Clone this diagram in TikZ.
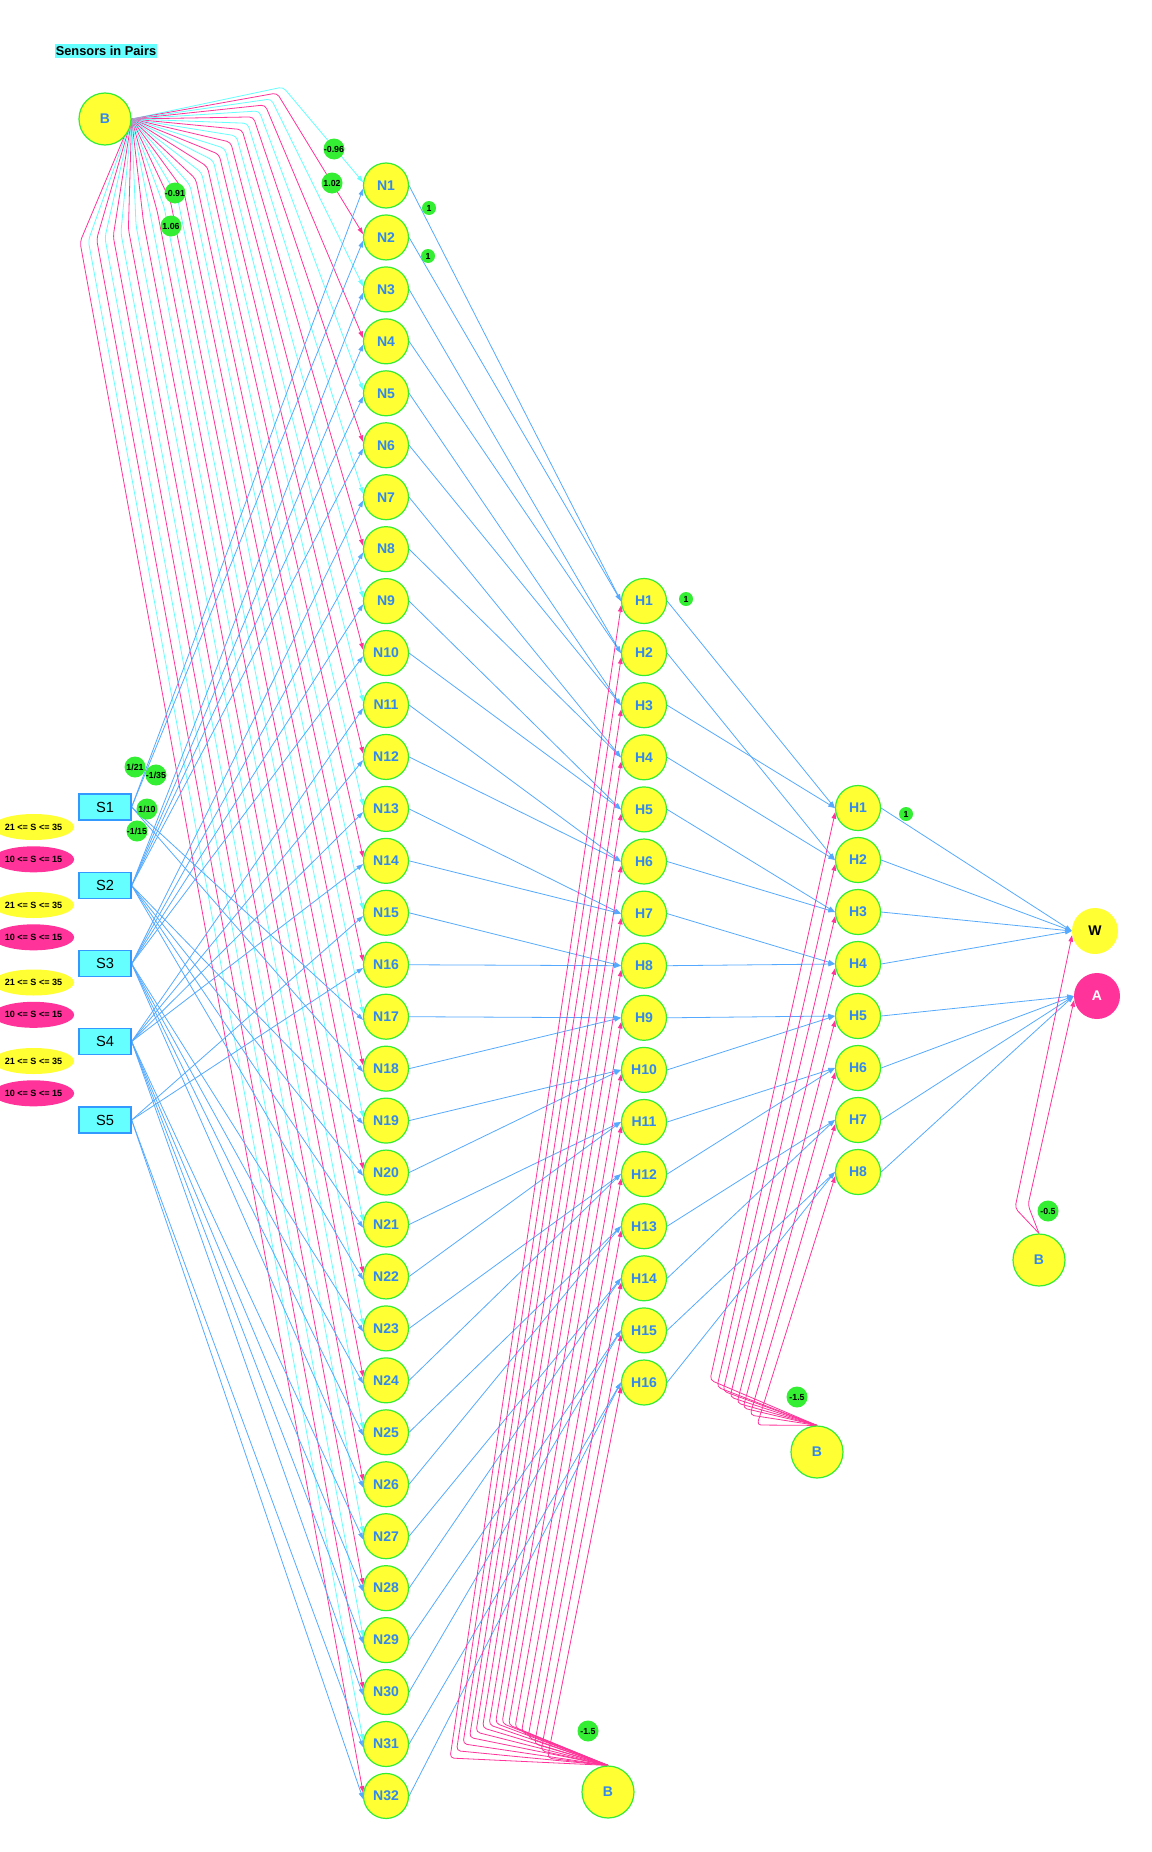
\documentclass[tikz,border=0pt]{standalone}
\usepackage{fontspec}
\setmainfont{Liberation Sans}
\usetikzlibrary{arrows.meta,shapes.geometric}
\pgfdeclarelayer{bg}
\pgfsetlayers{bg,main}
\definecolor{nyellow}{HTML}{FFFF33}
\definecolor{ngreen}{HTML}{33EE33}
\definecolor{lgreen}{HTML}{33EE33}
\definecolor{tblue}{HTML}{3388EE}
\definecolor{eblue}{HTML}{55AAFF}
\definecolor{ecyan}{HTML}{66FFFF}
\definecolor{epink}{HTML}{FF3399}
\definecolor{scyan}{HTML}{66FFFF}
\definecolor{sblue}{HTML}{3399FF}
\begin{document}
\begin{tikzpicture}[x=0.75pt,y=-0.75pt,
 neuron/.style={circle,draw=ngreen,line width=0.9pt,fill=nyellow,minimum size=33.75pt,inner sep=0pt,font=\fontsize{10.5}{12}\selectfont\bfseries,text=tblue},
 biasn/.style={neuron,minimum size=39pt},
 outn/.style={circle,minimum size=34.5pt,inner sep=0pt,font=\fontsize{10.5}{12}\selectfont\bfseries},
 sensor/.style={rectangle,draw=sblue,line width=1pt,fill=scyan,minimum width=39pt,minimum height=19.5pt,inner sep=0pt,font=\fontsize{11}{12}\selectfont},
 wlab/.style={circle,fill=lgreen,minimum size=15.75pt,inner sep=0pt,font=\fontsize{6.6}{7}\selectfont\bfseries},
 wone/.style={wlab,minimum size=10.5pt},
 rangey/.style={ellipse,fill=nyellow,minimum width=48.75pt,minimum height=19.5pt,inner sep=0pt,font=\fontsize{6.8}{7}\selectfont\bfseries},
 rangep/.style={rangey,fill=epink},
 titlebox/.style={fill=scyan,inner xsep=1pt,inner ysep=2pt,font=\fontsize{9.6}{11}\selectfont\bfseries},
 eb/.style={draw=eblue,line width=0.6pt,-{Triangle[length=5pt,width=3.4pt]}},
 ec/.style={eb,draw=ecyan,rounded corners=3pt},
 ep/.style={eb,draw=epink,rounded corners=3pt},
]
\useasboundingbox (0,0) rectangle (1152,1852);
\node[titlebox] (T) at (106,51) {Sensors in Pairs};
% neurons
\foreach \i in {1,...,32} \node[neuron] (N\i) at (386,{185.5+51.95*(\i-1)}) {N\i};
\foreach \k in {1,...,16} \node[neuron] (Ha\k) at (644,{601+52.1*(\k-1)}) {H\k};
\foreach \k in {1,...,8} \node[neuron] (Hb\k) at (858,{808+52*(\k-1)}) {H\k};
\foreach \j/\y in {1/807,2/885.5,3/963.8,4/1041.5,5/1120} \node[sensor] (S\j) at (105,\y) {S\j};
\node[biasn] (B1) at (105,119) {B};
\node[biasn] (B2) at (608,1792) {B};
\node[biasn] (B3) at (817,1452) {B};
\node[biasn] (B4) at (1039,1260) {B};
\node[outn,fill=nyellow] (W) at (1095,931) {W};
\node[outn,fill=epink,text=white] (A) at (1097,996) {A};
% range ellipses
\foreach \m/\y in {1/827,2/905,3/982.5,4/1061} {
 \node[rangey] (RY\m) at (33.5,\y) {21 <= S <= 35};
 \node[rangep] (RP\m) at (33.5,\y+32.3) {10 <= S <= 15};
}
\begin{pgfonlayer}{bg}
% bias B1 -> N
\foreach \i/\bx/\by in {1/283/87, 2/277/93, 3/271.1/98.9, 4/265.1/104.9, 5/259.1/110.9, 6/253.3/116.9, 7/247.6/123.3, 8/242/129.6, 9/236.3/135.9, 10/230.7/142.2, 11/224.9/148.4, 12/219.1/154.4, 13/213.3/160.5, 14/207.4/166.6, 15/201.6/172.7, 16/195.7/178.9, 17/189.9/184.9, 18/183.7/190.7, 19/177.1/196, 20/170.5/201.4, 21/164/206.6, 22/157.4/212, 23/150.9/217.3, 24/143.4/221.4, 25/136/225.2, 26/128.4/229.1, 27/120.9/232.9, 28/113.2/236.3, 29/104.9/237.7, 30/96.6/239.2, 31/88.3/240.6, 32/80/242} {
 \ifodd\i\relax\def\cc{ec}\else\def\cc{ep}\fi
 \draw[\cc] (B1.east) -- (\bx,\by) -- (N\i.172);
}
% sensors -> N
\foreach \i/\j in {1/1,2/1,3/2,4/2,5/2,6/2,7/3,8/3,9/3,10/3,11/4,12/4,13/4,14/4,15/5,16/5,17/1,18/1,19/2,20/2,21/2,22/2,23/3,24/3,25/3,26/3,27/4,28/4,29/4,30/4,31/5,32/5}
 \draw[eb] (S\j.east) -- (N\i.188);
% N -> Ha
\foreach \k [evaluate=\k as \a using int(2*\k-1), evaluate=\k as \b using int(2*\k)] in {1,...,16} {
 \draw[eb] (N\a.east) -- (Ha\k.west);
 \draw[eb] (N\b.east) -- (Ha\k.west);
}
% Ha -> Hb
\foreach \k/\a/\b in {1/1/3,2/2/4,3/5/6,4/7/8,5/9/10,6/11/12,7/13/14,8/15/16} {
 \draw[eb] (Ha\a.east) -- (Hb\k.west);
 \draw[eb] (Ha\b.east) -- (Hb\k.west);
}
% Hb -> W, A
\foreach \k in {1,...,4} \draw[eb] (Hb\k.east) -- (W.west);
\foreach \k in {5,...,8} \draw[eb] (Hb\k.east) -- (A.west);
% bias B2 -> Ha
\foreach \k/\bx/\by in {1/450/1758, 2/456.5/1750.7, 3/463/1743.8, 4/469.5/1737.4, 5/476/1732, 6/482.5/1727.7, 7/489/1724.7, 8/495.5/1723.2, 9/502/1723.2, 10/508.5/1724.7, 11/515/1727.7, 12/521.5/1732, 13/528/1737.4, 14/534.5/1743.8, 15/541/1750.7, 16/547.5/1758}
 \draw[ep] (B2.north) -- (\bx,\by) -- (Ha\k.190);
% bias B3 -> Hb
\foreach \k/\bx/\by in {1/710/1380, 2/717/1387, 3/723/1391, 4/730/1397, 5/737/1403, 6/743/1408, 7/750/1415, 8/757/1425}
 \draw[ep] (B3.north) -- (\bx,\by) -- (Hb\k.190);
% bias B4 -> W, A
\draw[ep] (B4.north) -- (1015,1208) -- (W.190);
\draw[ep] (B4.north) -- (1028,1205) -- (A.190);
\end{pgfonlayer}
% weight labels
\node[wlab] (L1) at (334,149) {-0.96};
\node[wlab] (L2) at (332,183) {1.02};
\node[wlab] (L3) at (175,193) {-0.91};
\node[wlab] (L4) at (171,226) {1.06};
\node[wlab] (L5) at (135,767) {1/21};
\node[wlab] (L6) at (156,775) {-1/35};
\node[wlab] (L7) at (147,809) {1/10};
\node[wlab] (L8) at (137,831) {-1/15};
\node[wone] (L9) at (429,208) {1};
\node[wone] (L10) at (428,256) {1};
\node[wone] (L11) at (686,599) {1};
\node[wone] (L12) at (906,814) {1};
\node[wlab] (L13) at (797,1397) {-1.5};
\node[wlab] (L14) at (588,1731) {-1.5};
\node[wlab] (L15) at (1048,1211) {-0.5};
\end{tikzpicture}
\end{document}
